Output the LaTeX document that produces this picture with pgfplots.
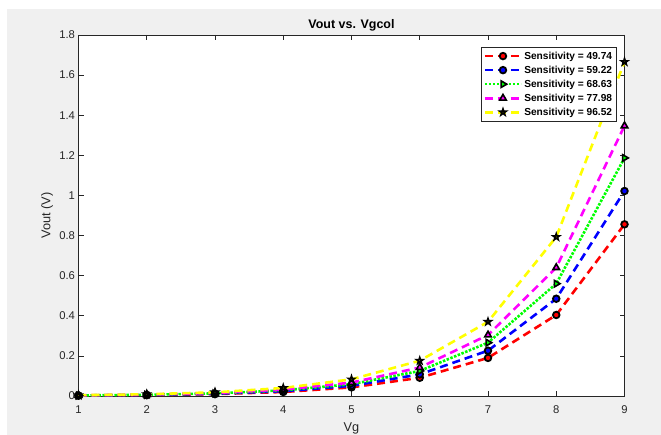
\documentclass[border=0pt]{standalone}
\usepackage{pgfplots}
\pgfplotsset{compat=1.18}
\usepackage{fontspec}
\setmainfont{Liberation Sans}
\definecolor{axgray}{RGB}{38,38,38}
\definecolor{figgray}{RGB}{240,240,240}
\definecolor{myyellow}{RGB}{255,255,0}
\definecolor{mygreen}{RGB}{0,255,0}
\definecolor{mymag}{RGB}{255,0,255}
\pgfdeclareplotmark{pentagram}{%
  \pgfpathmoveto{\pgfpointpolar{90}{1.3\pgfplotmarksize}}%
  \pgfpathlineto{\pgfpointpolar{126}{0.5\pgfplotmarksize}}%
  \pgfpathlineto{\pgfpointpolar{162}{1.3\pgfplotmarksize}}%
  \pgfpathlineto{\pgfpointpolar{198}{0.5\pgfplotmarksize}}%
  \pgfpathlineto{\pgfpointpolar{234}{1.3\pgfplotmarksize}}%
  \pgfpathlineto{\pgfpointpolar{270}{0.5\pgfplotmarksize}}%
  \pgfpathlineto{\pgfpointpolar{306}{1.3\pgfplotmarksize}}%
  \pgfpathlineto{\pgfpointpolar{342}{0.5\pgfplotmarksize}}%
  \pgfpathlineto{\pgfpointpolar{18}{1.3\pgfplotmarksize}}%
  \pgfpathlineto{\pgfpointpolar{54}{0.5\pgfplotmarksize}}%
  \pgfpathclose
  \pgfusepathqfillstroke
}
\begin{document}
\begin{tikzpicture}
\fill[white] (0bp,0bp) rectangle (661bp,435bp);
\fill[figgray] (7bp,0bp) rectangle (661bp,426bp);
\begin{axis}[
  at={(78.5bp,39bp)}, anchor=south west,
  scale only axis, width=546bp, height=361bp,
  xmin=1, xmax=9, ymin=0, ymax=1.8,
  xtick={1,2,3,4,5,6,7,8,9},
  ytick={0,0.2,0.4,0.6,0.8,1,1.2,1.4,1.6,1.8},
  yticklabels={0,0.2,0.4,0.6,0.8,1,1.2,1.4,1.6,1.8},
  tick align=inside, major tick length=5bp,
  axis background/.style={fill=white},
  axis line style={axgray, line width=0.6bp},
  tick style={axgray, line width=0.6bp},
  ticklabel style={font=\fontsize{11.3}{13}\selectfont, text=axgray},
  xticklabel style={yshift=-6bp},
  /pgf/number format/assume math mode=true,
  title={Vout vs. Vgcol},
  every axis title/.style={font=\bfseries\fontsize{12.5}{14}\selectfont, at={(axis description cs:0.5,1.028)}, anchor=center},
  xlabel={Vg}, ylabel={Vout (V)},
  every axis x label/.style={font=\fontsize{12.8}{14}\selectfont, text=axgray, at={(axis description cs:0.5,-0.0886)}, anchor=center},
  every axis y label/.style={font=\fontsize{12.8}{14}\selectfont, text=axgray, at={(axis description cs:-0.0577,0.5)}, rotate=90, anchor=center},
  clip=false,
  every axis plot/.append style={line width=2.6bp},
  legend style={at={(rel axis cs:0.986,0.967)}, anchor=north east,
    font=\bfseries\fontsize{10.2}{12}\selectfont, draw=axgray, line width=0.5bp,
    fill=white, row sep=1.2bp, inner sep=2.5bp},
  legend cell align=left,
  legend image code/.code={\draw[mark repeat=2,mark phase=2] plot coordinates {(0bp,0bp)(18bp,0bp)(36bp,0bp)};},
]
\addplot[red, dash pattern=on 8bp off 5bp, mark=*, mark size=3.3bp,
  mark options={solid, draw=black, fill=red, line width=1.8bp}]
  coordinates {(1,0.002)(2,0.0045)(3,0.0095)(4,0.020)(5,0.043)(6,0.091)(7,0.19)(8,0.404)(9,0.856)};
\addlegendentry{Sensitivity = 49.74}
\addplot[blue, dash pattern=on 8bp off 5bp, mark=*, mark size=3.3bp,
  mark options={solid, draw=black, fill=blue, line width=1.8bp}]
  coordinates {(1,0.0024)(2,0.0053)(3,0.0113)(4,0.024)(5,0.051)(6,0.108)(7,0.226)(8,0.485)(9,1.022)};
\addlegendentry{Sensitivity = 59.22}
\addplot[mygreen, dash pattern=on 2.5bp off 1.5bp, mark=triangle*, mark size=3.8bp,
  mark options={solid, rotate=-90, draw=black, fill=mygreen, line width=1.6bp}]
  coordinates {(1,0.0027)(2,0.0062)(3,0.013)(4,0.028)(5,0.059)(6,0.125)(7,0.266)(8,0.56)(9,1.187)};
\addlegendentry{Sensitivity = 68.63}
\addplot[mymag, dash pattern=on 8bp off 5bp, mark=triangle*, mark size=3.8bp,
  mark options={solid, draw=black, fill=mymag, line width=1.6bp}]
  coordinates {(1,0.0031)(2,0.007)(3,0.0148)(4,0.032)(5,0.067)(6,0.142)(7,0.304)(8,0.64)(9,1.347)};
\addlegendentry{Sensitivity = 77.98}
\addplot[myyellow, dash pattern=on 8bp off 5bp, mark=pentagram, mark size=2.6bp,
  mark options={solid, draw=black, fill=myyellow, line width=1.6bp}]
  coordinates {(1,0.0039)(2,0.0087)(3,0.0183)(4,0.040)(5,0.083)(6,0.176)(7,0.37)(8,0.793)(9,1.666)};
\addlegendentry{Sensitivity = 96.52}
\end{axis}
\pgfresetboundingbox
\path[use as bounding box] (0bp,0bp) rectangle (661bp,435bp);
\end{tikzpicture}
\end{document}
